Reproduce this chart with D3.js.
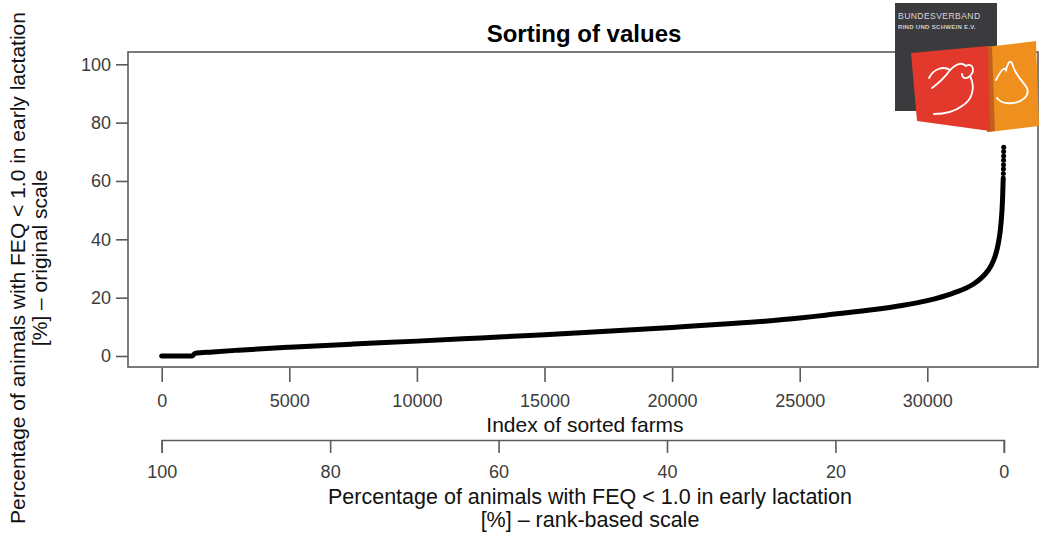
<!DOCTYPE html>
<html>
<head>
<meta charset="utf-8">
<script src="https://cdn.jsdelivr.net/npm/d3@7"></script>
<style>
  html, body { margin: 0; padding: 0; background: #fff; }
  svg { display: block; }
  text { font-family: "Liberation Sans", Arial, Helvetica, sans-serif; }
</style>
</head>
<body>
<svg id="chart" width="1044" height="539"></svg>
<script>
// Farm index (sorted ascending) and share of animals with FEQ < 1.0 [%]
const farmIndex = [0, 1200, 1300, 2000, 3000, 5000, 7500, 10000, 12500, 15000, 16400,
  20000, 22500, 25000, 26000, 28000, 29000, 30000, 31000, 31500, 31800, 32100, 32300,
  32500, 32650, 32780, 32860, 32920, 32950, 32975];
const farmValue = [0, 0, 0.9, 1.4, 2.0, 3.0, 4.1, 5.1, 6.2, 7.3, 8.0,
  9.8, 11.2, 13.0, 14.0, 16.0, 17.3, 19.0, 21.5, 23.2, 24.6, 26.6, 28.4,
  31.0, 34.0, 38.5, 43.0, 49.0, 54.0, 61.0];
// the few farms with the highest shares, plotted as single points
const topIndex = [32980, 32983, 32986, 32988, 32990, 32992, 32995];
const topValue = [62.6, 64.1, 65.6, 67.1, 68.6, 70.1, 71.6];

const nFarms = 33000;
const yTicks = [0, 20, 40, 60, 80, 100];
const xTicks = [0, 5000, 10000, 15000, 20000, 25000, 30000];
const rankTicks = [100, 80, 60, 40, 20, 0];

const titleText = "Sorting of values";
const xTitle = "Index of sorted farms";
const yTitle = ["Percentage of animals with FEQ < 1.0 in early lactation", "[%] \u2013 original scale"];
const rankTitle = ["Percentage of animals with FEQ < 1.0 in early lactation", "[%] \u2013 rank-based scale"];

const svg = d3.select("#chart");
const box = { left: 128, right: 1038, top: 52, bottom: 367 };

const x = d3.scaleLinear().domain([0, 5000]).range([161.7, 289.3]);
const y = d3.scaleLinear().domain([0, 100]).range([356, 64.3]);
const xRank = d3.scaleLinear().domain([100, 0]).range([x(0), x(nFarms)]);

const axisGrey = "#5a5a5a";
const labelGrey = "#3c3c3c";

// plot frame
svg.append("rect")
  .attr("x", box.left).attr("y", box.top)
  .attr("width", box.right - box.left).attr("height", box.bottom - box.top)
  .attr("fill", "none").attr("stroke", axisGrey).attr("stroke-width", 1.6);

function styleTicks(g) {
  g.selectAll(".tick line").attr("stroke", axisGrey).attr("stroke-width", 1.6);
  g.selectAll(".tick text").attr("fill", labelGrey).style("font-size", "18px")
    .style("font-family", "'Liberation Sans', Arial, sans-serif");
}

// y axis
const yAxis = svg.append("g").attr("transform", `translate(${box.left},0)`)
  .call(d3.axisLeft(y).tickValues(yTicks).tickSize(12).tickPadding(5));
yAxis.select(".domain").remove();
styleTicks(yAxis);

// x axis (farm index)
const xAxis = svg.append("g").attr("transform", `translate(0,${box.bottom + 1})`)
  .call(d3.axisBottom(x).tickValues(xTicks).tickSize(14).tickPadding(12).tickFormat(d3.format("d")));
xAxis.select(".domain").remove();
styleTicks(xAxis);

// second x axis (rank-based percentage)
const rAxis = svg.append("g").attr("transform", "translate(0,440)")
  .call(d3.axisBottom(xRank).tickValues(rankTicks).tickSizeOuter(0).tickSize(13).tickPadding(12));
rAxis.select(".domain").attr("stroke", axisGrey).attr("stroke-width", 1.6);
styleTicks(rAxis);

// sorted curve
const curve = d3.line().x((d, i) => x(farmIndex[i])).y(d => y(d)).curve(d3.curveMonotoneX);
svg.append("path").datum(farmValue)
  .attr("d", curve).attr("fill", "none").attr("stroke", "#000")
  .attr("stroke-width", 5).attr("stroke-linecap", "round");

svg.append("g").selectAll("circle").data(topValue).join("circle")
  .attr("cx", (d, i) => x(topIndex[i])).attr("cy", d => y(d))
  .attr("r", 2.5).attr("fill", "#000");

// titles
svg.append("text").attr("x", 584).attr("y", 42).attr("text-anchor", "middle")
  .style("font-size", "24px").style("font-weight", "bold").text(titleText);

svg.append("text").attr("x", 585).attr("y", 432).attr("text-anchor", "middle")
  .style("font-size", "21px").attr("fill", "#111").text(xTitle);

rankTitle.forEach((t, i) => {
  svg.append("text").attr("x", 590).attr("y", 504 + i * 23).attr("text-anchor", "middle")
    .style("font-size", "21.5px").attr("fill", "#111").text(t);
});

const yCentres = [[25, 268], [47, 258]];
yTitle.forEach((t, i) => {
  svg.append("text")
    .attr("transform", `translate(${yCentres[i][0]},${yCentres[i][1]}) rotate(-90)`)
    .attr("text-anchor", "middle").style("font-size", "21px").attr("fill", "#111").text(t);
});

// association logo (top right)
const logo = svg.append("g");
logo.append("rect").attr("x", 895).attr("y", 3).attr("width", 102).attr("height", 108).attr("fill", "#3b3a3c");
logo.append("text").attr("x", 898).attr("y", 19).attr("fill", "#d8d8d8")
  .style("font-size", "8.6px").style("letter-spacing", "0.4px").text("BUNDESVERBAND");
logo.append("text").attr("x", 898).attr("y", 28.5).attr("fill", "#cfcfcf")
  .style("font-size", "6px").style("font-weight", "bold").style("letter-spacing", "0.3px").text("RIND UND SCHWEIN E.V.");
logo.append("polygon").attr("points", "986,47 1036,41 1039,126 989,132").attr("fill", "#ef8f1d");
logo.append("polygon").attr("points", "984,48 992,47 995,131 987,132").attr("fill", "#c2611c");
logo.append("polygon").attr("points", "911,53 988,46 990,131 917,121").attr("fill", "#e2392c");
// animal outlines
logo.append("path")
  .attr("d", "M929,78 C934,68 944,66 950,70 C956,64 962,62 966,66 C972,62 976,70 970,76 C966,80 962,78 962,74 M970,76 C976,88 972,100 962,106 C954,112 944,114 934,114 M950,70 C946,76 940,82 932,88")
  .attr("fill", "none").attr("stroke", "#fff").attr("stroke-width", 1.8).attr("stroke-linecap", "round");
logo.append("path")
  .attr("d", "M996,80 C1000,72 1004,66 1006,70 C1008,62 1011,58 1013,66 C1016,76 1022,80 1027,88 C1030,96 1022,102 1013,103 C1005,104 1000,102 997,98")
  .attr("fill", "none").attr("stroke", "#fff").attr("stroke-width", 1.8).attr("stroke-linecap", "round");
</script>
</body>
</html>
